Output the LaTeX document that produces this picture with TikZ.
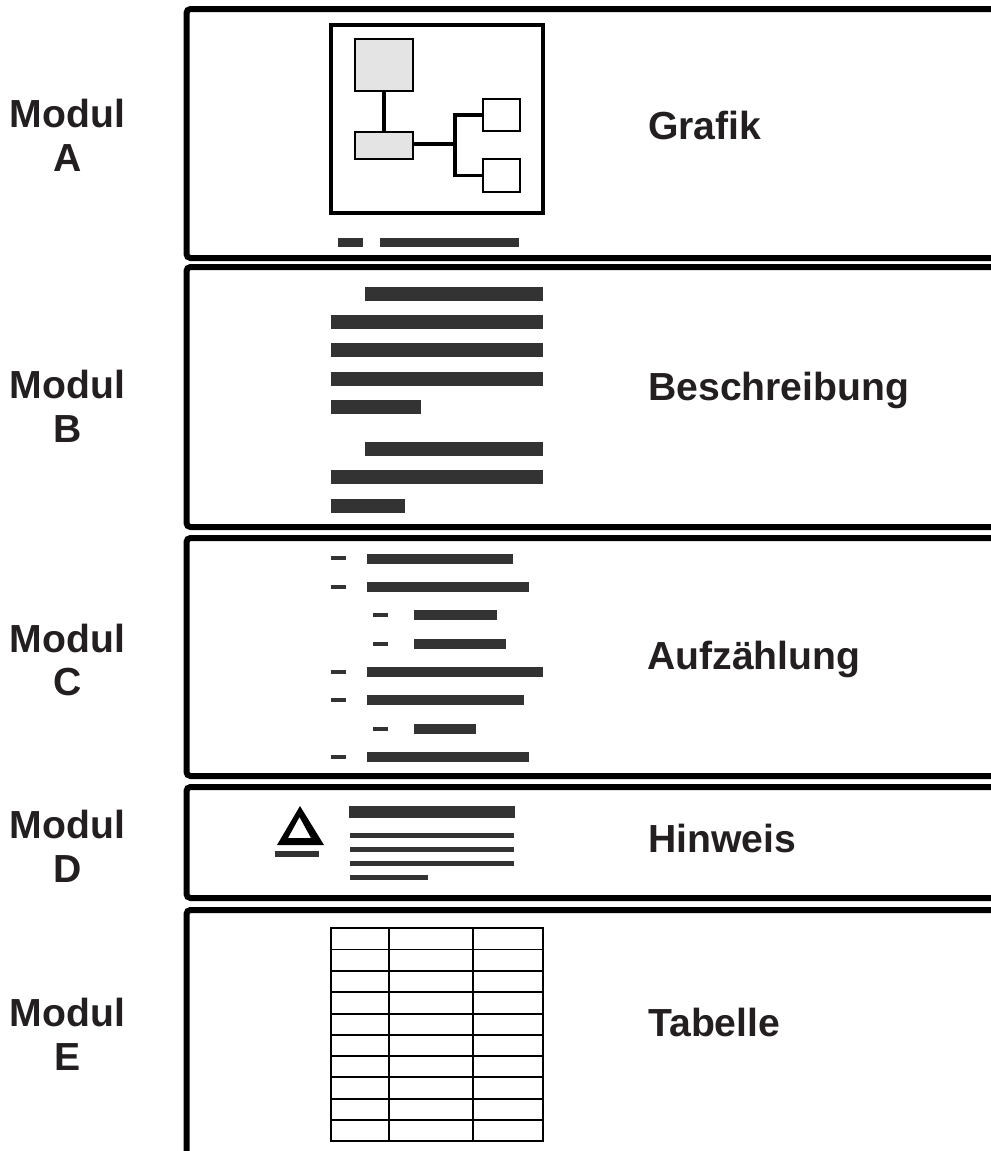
\documentclass[tikz,border=0pt]{standalone}
\usepackage{fontspec}
\setmainfont{Liberation Sans}
\definecolor{barcol}{HTML}{333333}
\definecolor{boxcol}{HTML}{E4E4E4}
\definecolor{txtcol}{HTML}{231F20}

\begin{document}
\begin{tikzpicture}[x=1bp, y=-1bp, ml/.style={font=\fontsize{39.3}{44}\selectfont\bfseries, align=center, text=txtcol, inner sep=0},
				tl/.style={font=\fontsize{39.3}{44}\selectfont\bfseries, anchor=base west, text=txtcol, inner sep=0},
				frm/.style={line width=6bp, rounded corners=4bp},
				bar/.style={fill=barcol},
				gb/.style={draw, line width=2bp, fill=boxcol, inner sep=0, minimum width=58bp},
				wb/.style={draw, line width=2bp, fill=white, inner sep=0, minimum width=37bp},
				lnk/.style={line width=3.3bp},
				tbl/.style={line width=1.5bp}]
				\clip (0,0) rectangle (991,1151);

				\draw[frm] (1000,9) -- (186.5,9) -- (186.5,258) -- (1000,258);
				\draw[frm] (1000,267) -- (186.5,267) -- (186.5,527) -- (1000,527);
				\draw[frm] (1000,538) -- (186.5,538) -- (186.5,776) -- (1000,776);
				\draw[frm] (1000,787) -- (186.5,787) -- (186.5,898) -- (1000,898);
				\draw[frm] (1000,910) -- (186.5,910) -- (186.5,1170);

				\node[ml] (mA) at (67.5,135) {Modul\\A};
				\node[ml] (mB) at (67.5,406) {Modul\\B};
				\node[ml] (mC) at (67.5,660) {Modul\\C};
				\node[ml] (mD) at (67.5,846) {Modul\\D};
				\node[ml] (mE) at (67.5,1034) {Modul\\E};

				\node[tl] (tA) at (648,139) {Grafik};
				\node[tl] (tB) at (648,400) {Beschreibung};
				\node[tl] (tC) at (647,669) {Aufzählung};
				\node[tl] (tD) at (648,852) {Hinweis};
				\node[tl] (tE) at (648,1036) {Tabelle};

				\draw[line width=3.5bp] (331,25) rectangle (543,213);
				\node[gb, minimum height=52bp] (g1) at (384,65) {};
				\node[gb, minimum height=27bp] (g2) at (384,145.5) {};
				\node[wb, minimum height=32bp] (w1) at (501.5,115) {};
				\node[wb, minimum height=33bp] (w2) at (501.5,175.5) {};
				\coordinate (jn) at (455,144);
				\draw[lnk] (g1) -- (g2);
				\draw[lnk] (g2.east |- jn) -- (jn);
				\draw[lnk] (w1.west) -| (jn);
				\draw[lnk] (w2.west) -| (jn);
				\fill[bar] (338,238) rectangle (363,247);
				\fill[bar] (380,238) rectangle (519,247);

				\fill[bar] (365,287) rectangle (543,301);
				\fill[bar] (331,315) rectangle (543,329);
				\fill[bar] (331,343) rectangle (543,357);
				\fill[bar] (331,372) rectangle (543,386);
				\fill[bar] (331,400) rectangle (421,414);
				\fill[bar] (365,442) rectangle (543,456);
				\fill[bar] (331,470) rectangle (543,484);
				\fill[bar] (331,499) rectangle (405,513);

				\fill[bar] (331,556) rectangle (346,560); \fill[bar] (367,554) rectangle (513,564);
				\fill[bar] (331,585) rectangle (346,589); \fill[bar] (367,582) rectangle (529,592);
				\fill[bar] (373,613) rectangle (388,617); \fill[bar] (414,610) rectangle (497,620);
				\fill[bar] (373,642) rectangle (388,646); \fill[bar] (414,639) rectangle (506,649);
				\fill[bar] (331,670) rectangle (346,674); \fill[bar] (367,667) rectangle (543,677);
				\fill[bar] (331,698) rectangle (346,702); \fill[bar] (367,695) rectangle (524,705);
				\fill[bar] (373,727) rectangle (388,731); \fill[bar] (414,724) rectangle (476,734);
				\fill[bar] (331,755) rectangle (346,759); \fill[bar] (367,752) rectangle (529,762);

				\fill[even odd rule] (300,806) -- (324,845) -- (277,845) -- cycle (299.5,817) -- (311,838) -- (288,838) -- cycle;
				\fill[bar] (275,851) rectangle (319,857);
				\fill[bar] (349,806) rectangle (515,818);
				\fill[bar] (350,833) rectangle (514,838);
				\fill[bar] (350,847) rectangle (514,852);
				\fill[bar] (350,861) rectangle (514,866);
				\fill[bar] (350,875) rectangle (428,880);

				\draw[tbl] (331,928) rectangle (543,1141);
				\draw[tbl] (389,928) to (389,1141);
				\draw[tbl] (473,928) to (473,1141);
				\draw[tbl] (331,949.5) to (543,949.5);
				\draw[tbl] (331,971) to (543,971);
				\draw[tbl] (331,992) to (543,992);
				\draw[tbl] (331,1014) to (543,1014);
				\draw[tbl] (331,1035) to (543,1035);
				\draw[tbl] (331,1056) to (543,1056);
				\draw[tbl] (331,1077) to (543,1077);
				\draw[tbl] (331,1099) to (543,1099);
				\draw[tbl] (331,1120) to (543,1120);
		\end{tikzpicture}
\end{document}
